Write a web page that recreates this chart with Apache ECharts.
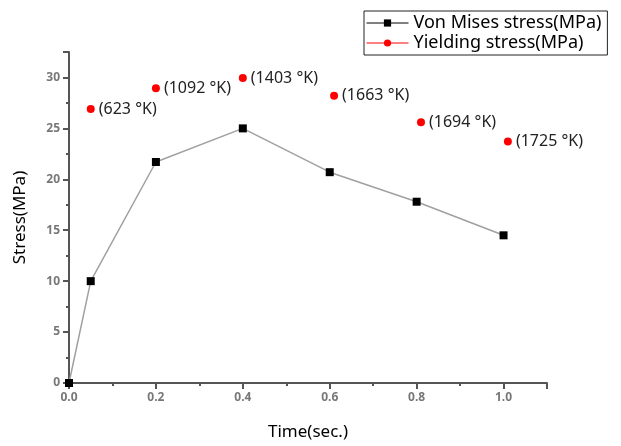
<!DOCTYPE html>
<html><head><meta charset="utf-8">
<script src="https://cdn.jsdelivr.net/npm/echarts@6/dist/echarts.min.js"></script>
<style>html,body{margin:0;padding:0;background:#fff}#c{width:621px;height:446px}</style>
</head><body><div id="c"></div>
<script>
var vonTime = [0, 0.05, 0.2, 0.4, 0.6, 0.8, 1.0];
var vonStress = [0, 10, 21.7, 25, 20.7, 17.8, 14.5];
var yieldTime = [0.05, 0.2, 0.4, 0.61, 0.81, 1.01];
var yieldStress = [26.9, 28.95, 29.95, 28.2, 25.6, 23.7];
var yieldLabels = ['(623 °K)', '(1092 °K)', '(1403 °K)', '(1663 °K)', '(1694 °K)', '(1725 °K)'];
var seriesNames = ['Von Mises stress(MPa)', 'Yielding stress(MPa)'];

var font = '"Noto Sans", "Open Sans", sans-serif';
var chart = echarts.init(document.getElementById('c'));
chart.setOption({
  animation: false,
  textStyle: {fontFamily: font},
  grid: {left: 69, right: 74, top: 52, bottom: 61},
  legend: {
    left: 364, top: 11, width: 247,
    orient: 'vertical',
    borderColor: '#222', borderWidth: 1, padding: [3, 6, 3, 2],
    itemWidth: 42, itemHeight: 9, itemGap: 2,
    textStyle: {fontSize: 18, color: '#000', fontFamily: font},
    data: [
      {name: seriesNames[0], lineStyle: {color: '#000', width: 1}},
      {name: seriesNames[1], lineStyle: {color: '#ff0000', width: 1, opacity: 1}}
    ]
  },
  xAxis: {
    type: 'value', min: 0, max: 1.1, interval: 0.2,
    name: 'Time(sec.)', nameLocation: 'middle', nameGap: 41,
    nameTextStyle: {fontSize: 17, color: '#000', fontFamily: font},
    splitLine: {show: false},
    axisLine: {lineStyle: {color: '#555', width: 2}},
    axisTick: {length: 6, lineStyle: {color: '#555', width: 2}},
    minorTick: {show: true, splitNumber: 2, length: 3, lineStyle: {color: '#555', width: 2}},
    axisLabel: {color: '#777', fontSize: 12, fontWeight: 'bold', margin: 9, showMaxLabel: false,
      formatter: function (v) { return v.toFixed(1); }}
  },
  yAxis: {
    type: 'value', min: 0, max: 32.5, interval: 5,
    name: 'Stress(MPa)', nameLocation: 'middle', nameGap: 40,
    nameTextStyle: {fontSize: 17, color: '#000', fontFamily: font},
    splitLine: {show: false},
    axisLine: {show: true, lineStyle: {color: '#555', width: 2}},
    axisTick: {show: true, length: 6, lineStyle: {color: '#555', width: 2}},
    minorTick: {show: true, splitNumber: 2, length: 3, lineStyle: {color: '#555', width: 2}},
    axisLabel: {color: '#777', fontSize: 12, fontWeight: 'bold', margin: 9, showMaxLabel: false}
  },
  series: [
    {
      name: seriesNames[0], type: 'line',
      data: vonTime.map(function (t, i) { return [t, vonStress[i]]; }),
      symbol: 'rect', symbolSize: 8,
      itemStyle: {color: '#000'},
      lineStyle: {color: '#a0a0a0', width: 1.5}
    },
    {
      name: seriesNames[1], type: 'line',
      data: yieldTime.map(function (t, i) { return [t, yieldStress[i]]; }),
      symbol: 'circle', symbolSize: 8,
      itemStyle: {color: '#ff0000'},
      lineStyle: {opacity: 0},
      label: {show: true, position: 'right', distance: 4, fontSize: 16, color: '#222', fontFamily: font,
        formatter: function (p) { return yieldLabels[p.dataIndex]; }}
    }
  ]
});
</script></body></html>
